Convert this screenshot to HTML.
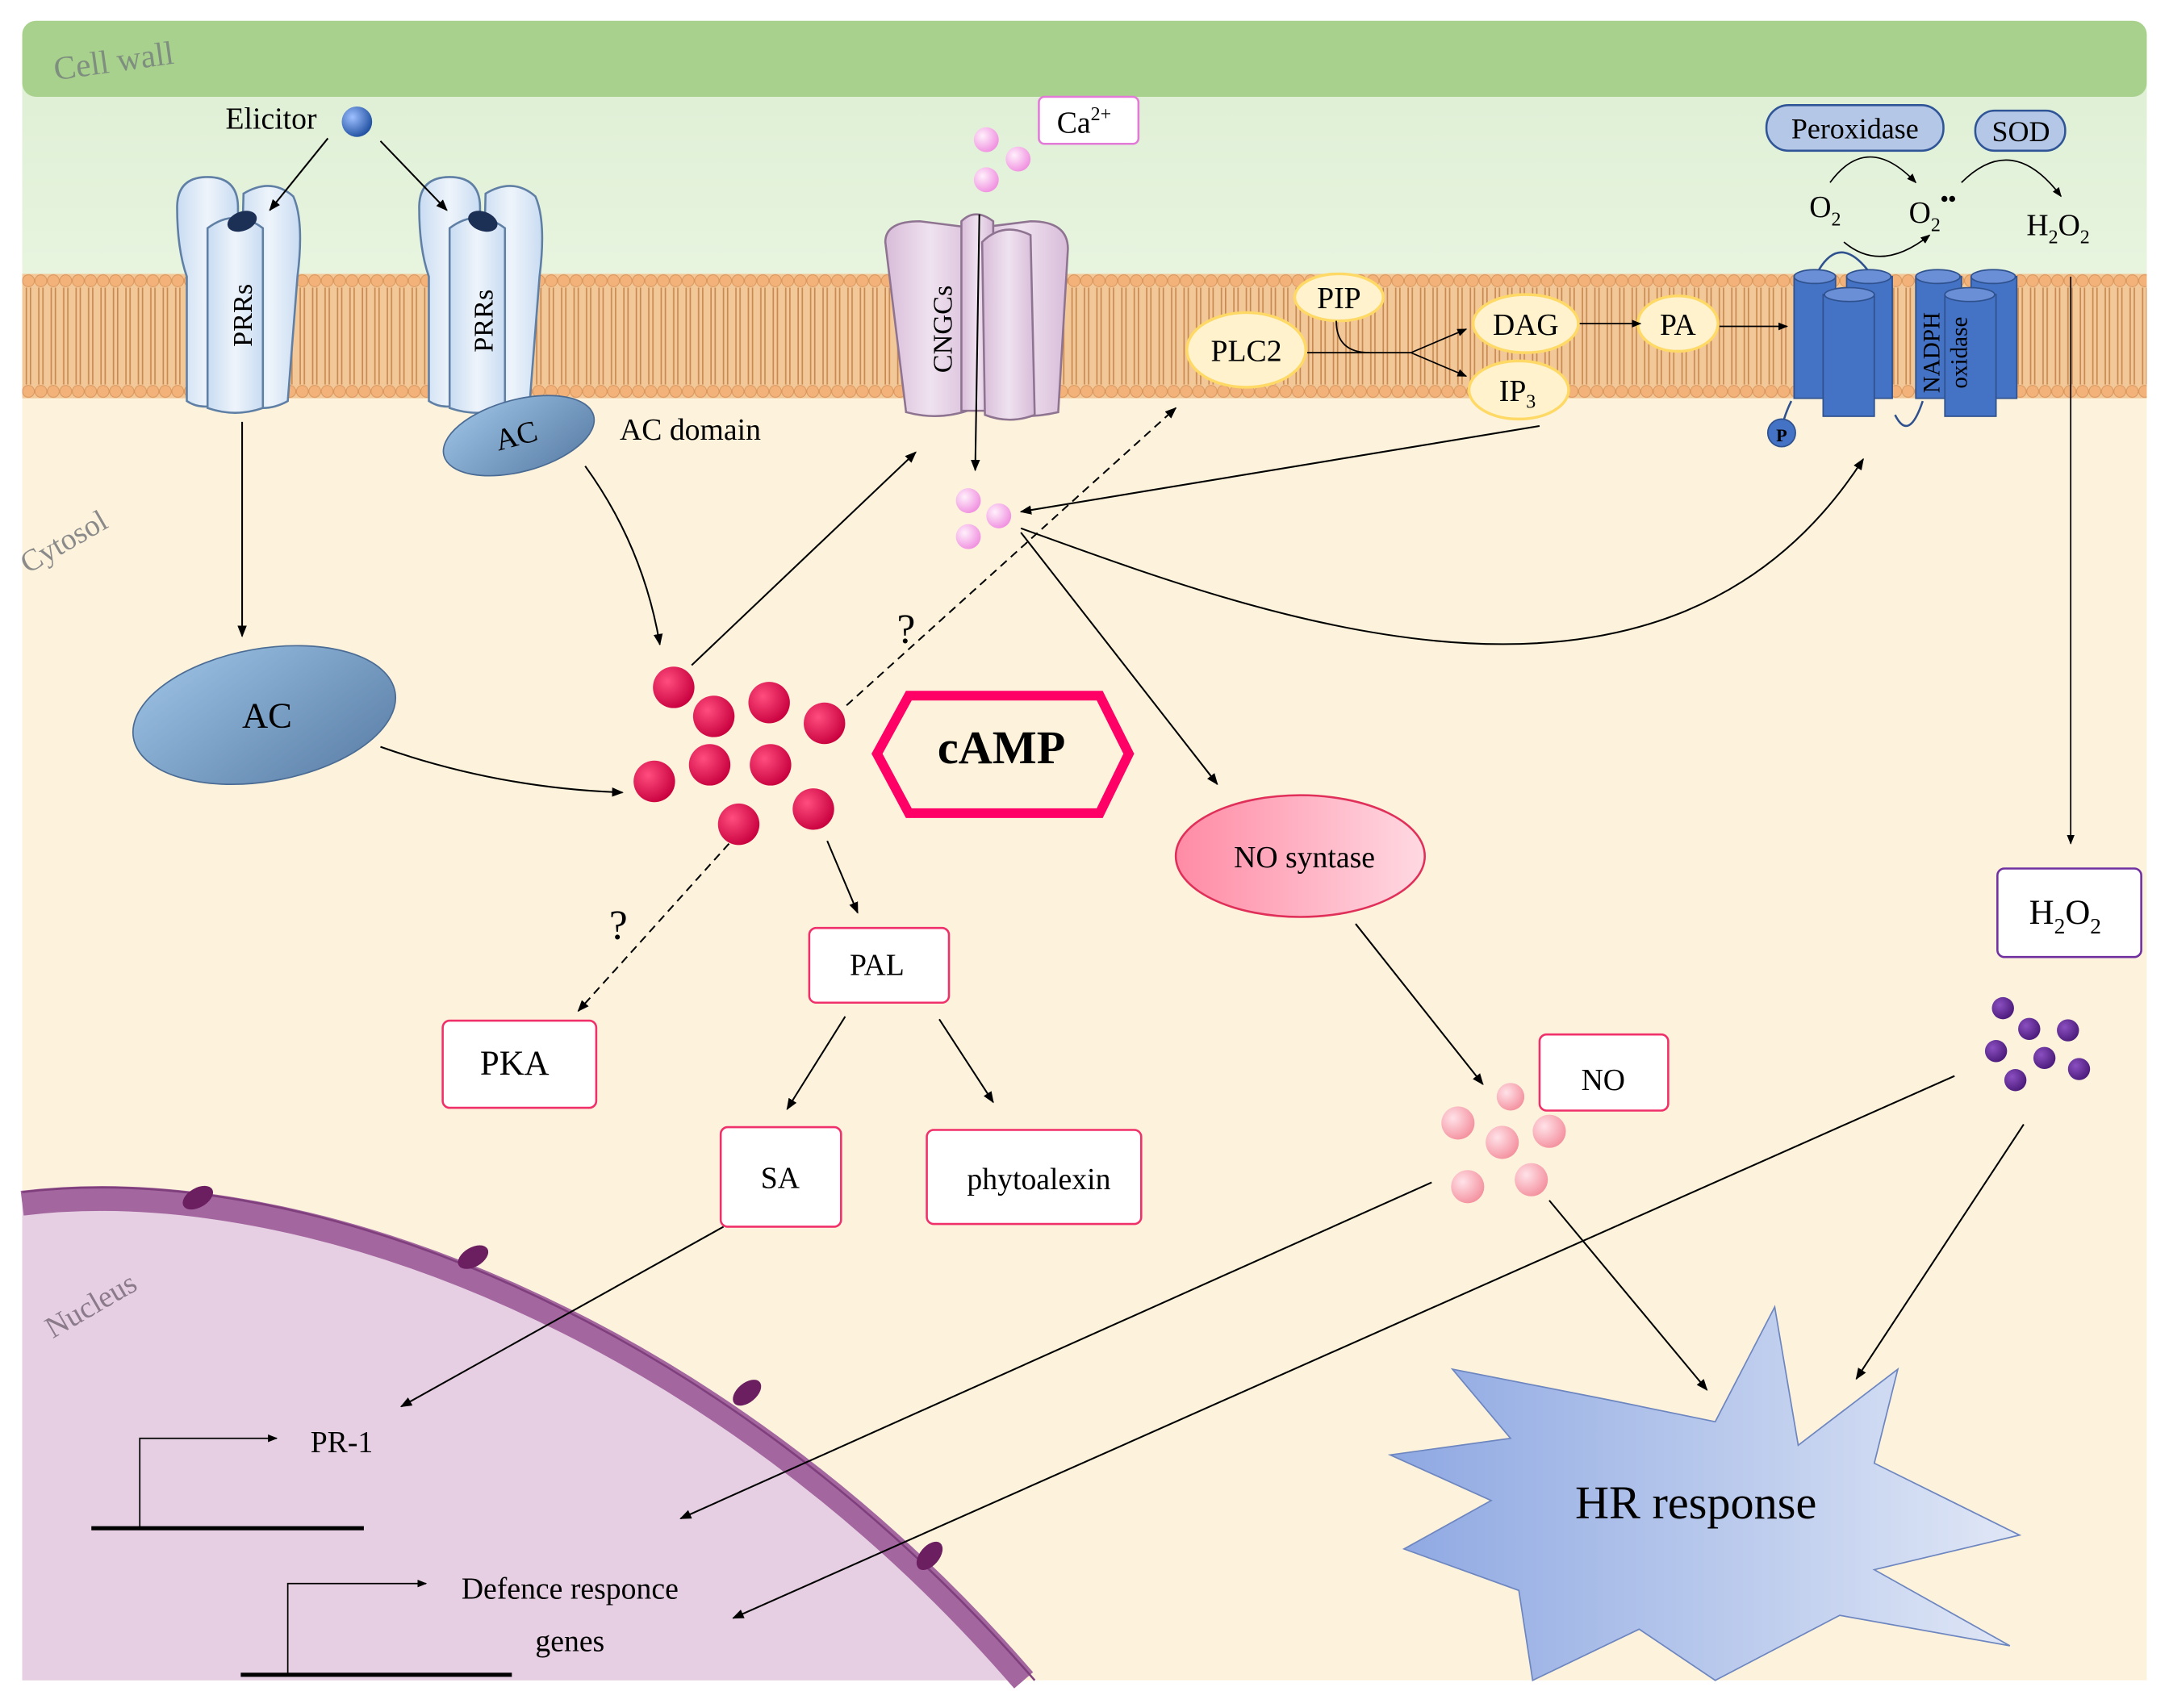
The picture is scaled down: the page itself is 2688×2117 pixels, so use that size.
<!DOCTYPE html>
<html><head><meta charset="utf-8">
<style>
html,body{margin:0;padding:0;background:#fff;}
svg{display:block;}
text{font-family:"Liberation Serif",serif;}
</style></head>
<body>
<svg width="2688" height="2117" viewBox="0 0 1568 1235" xmlns="http://www.w3.org/2000/svg">
<defs>
<marker id="ah" viewBox="0 0 10 10" refX="9" refY="5" markerWidth="7" markerHeight="7" orient="auto-start-reverse"><path d="M0,1 L10,5 L0,9 z" fill="#000"/></marker>
<linearGradient id="gtop" x1="0" y1="0" x2="0" y2="1"><stop offset="0" stop-color="#dff0d6"/><stop offset="1" stop-color="#e8f4df"/></linearGradient>
<pattern id="lip" width="9" height="90" patternUnits="userSpaceOnUse" x="16" y="198">
<rect width="9" height="90" fill="#f3c898"/>
<line x1="3" y1="10" x2="3" y2="80" stroke="#c88a52" stroke-width="1"/>
<line x1="6" y1="10" x2="6" y2="80" stroke="#c88a52" stroke-width="1"/>
<circle cx="4.5" cy="5" r="4.3" fill="#f2b27a" stroke="#d9965c" stroke-width="0.6"/>
<circle cx="4.5" cy="85" r="4.3" fill="#f2b27a" stroke="#d9965c" stroke-width="0.6"/>
</pattern>
<radialGradient id="red" cx="0.35" cy="0.35" r="0.7"><stop offset="0" stop-color="#ff4d7e"/><stop offset="1" stop-color="#c8003e"/></radialGradient>
<radialGradient id="pink" cx="0.35" cy="0.35" r="0.7"><stop offset="0" stop-color="#fff0fb"/><stop offset="1" stop-color="#f08fe0"/></radialGradient>
<radialGradient id="lpink" cx="0.35" cy="0.35" r="0.7"><stop offset="0" stop-color="#ffe2e8"/><stop offset="1" stop-color="#f4919f"/></radialGradient>
<radialGradient id="purp" cx="0.35" cy="0.35" r="0.7"><stop offset="0" stop-color="#8a4fc0"/><stop offset="1" stop-color="#4b1a7a"/></radialGradient>
<radialGradient id="blueball" cx="0.35" cy="0.35" r="0.7"><stop offset="0" stop-color="#9ec0ff"/><stop offset="1" stop-color="#1f4fa0"/></radialGradient>
<linearGradient id="acg" x1="0" y1="0" x2="1" y2="1"><stop offset="0" stop-color="#9dc3e6"/><stop offset="1" stop-color="#5a7ea6"/></linearGradient>
<linearGradient id="nos" x1="0" y1="0" x2="1" y2="0"><stop offset="0" stop-color="#ff8ba5"/><stop offset="1" stop-color="#ffd9e2"/></linearGradient>
<linearGradient id="hr" x1="0" y1="0" x2="1" y2="0"><stop offset="0" stop-color="#8ea8e2"/><stop offset="1" stop-color="#e0e7f6"/></linearGradient>
<linearGradient id="prr" x1="0" y1="0" x2="1" y2="0"><stop offset="0" stop-color="#c9dcf2"/><stop offset="0.5" stop-color="#eef4fb"/><stop offset="1" stop-color="#c9dcf2"/></linearGradient>
<linearGradient id="cng" x1="0" y1="0" x2="1" y2="0"><stop offset="0" stop-color="#d8bcd9"/><stop offset="0.5" stop-color="#efe2ef"/><stop offset="1" stop-color="#d8bcd9"/></linearGradient>
</defs>

<!-- backgrounds -->
<rect x="16" y="60" width="1536" height="1155" fill="#fdf3dc"/>
<rect x="16" y="60" width="1536" height="145" fill="url(#gtop)"/>
<rect x="16" y="15" width="1536" height="55" rx="10" fill="#a9d18e"/>
<text x="40" y="58" font-size="24" fill="#7f8f7f" transform="rotate(-8 40 58)">Cell wall</text>
<rect x="16" y="198" width="1536" height="90" fill="url(#lip)"/>
<text x="20" y="415" font-size="22" fill="#8a8a8a" transform="rotate(-30 20 415)">Cytosol</text>

<!-- nucleus -->
<path d="M16,870 C220,845 520,960 740,1215 L16,1215 Z" fill="#e6cfe3"/>
<path d="M16,870 C220,845 520,960 740,1215" fill="none" stroke="#a3669f" stroke-width="18"/>
<path d="M16,862 C220,837 520,952 748,1215" fill="none" stroke="#7f3f7c" stroke-width="1.5"/>
<ellipse cx="143" cy="866" rx="7" ry="12" fill="#6b1e60" transform="rotate(60 143 866)"/>
<ellipse cx="342" cy="909" rx="7" ry="12" fill="#6b1e60" transform="rotate(60 342 909)"/>
<ellipse cx="540" cy="1007" rx="7" ry="12" fill="#6b1e60" transform="rotate(50 540 1007)"/>
<ellipse cx="672" cy="1125" rx="7" ry="12" fill="#6b1e60" transform="rotate(40 672 1125)"/>
<text x="38" y="968" font-size="22" fill="#8a7a8a" transform="rotate(-30 38 968)">Nucleus</text>

<!-- PRRs -->
<g stroke="#5f7fa5" stroke-width="1.5" fill="url(#prr)">
<path d="M128,150 Q128,128 150,128 Q172,128 172,150 L172,285 Q150,300 135,290 L135,200 Q128,180 128,150Z"/>
<path d="M176,140 Q196,128 212,142 Q220,160 215,200 L208,290 Q190,300 172,290Z"/>
<path d="M150,165 Q170,150 190,165 L190,295 Q170,302 150,295Z"/>
<path d="M303,150 Q303,128 325,128 Q347,128 347,150 L347,285 Q325,300 310,290 L310,200 Q303,180 303,150Z"/>
<path d="M351,140 Q371,128 387,142 Q395,160 390,200 L383,290 Q365,300 347,290Z"/>
<path d="M325,165 Q345,150 365,165 L365,295 Q345,302 325,295Z"/>
</g>
<ellipse cx="175" cy="160" rx="11" ry="7" fill="#1c2f55" transform="rotate(-20 175 160)"/>
<ellipse cx="349" cy="160" rx="11" ry="7" fill="#1c2f55" transform="rotate(20 349 160)"/>
<text x="182" y="228" font-size="20" transform="rotate(-90 182 228)" text-anchor="middle">PRRs</text>
<text x="356" y="232" font-size="20" transform="rotate(-90 356 232)" text-anchor="middle">PRRs</text>
<text x="163" y="93" font-size="22">Elicitor</text>
<circle cx="258" cy="88" r="11" fill="url(#blueball)"/>

<!-- AC domain -->
<ellipse cx="375" cy="315" rx="56" ry="26" fill="url(#acg)" stroke="#4a6b94" transform="rotate(-15 375 315)"/>
<text x="375" y="322" font-size="22" text-anchor="middle" transform="rotate(-15 375 322)">AC</text>
<text x="448" y="318" font-size="22">AC domain</text>
<ellipse cx="191" cy="517" rx="96" ry="48" fill="url(#acg)" stroke="#4a6b94" transform="rotate(-10 191 517)"/>
<text x="193" y="526" font-size="26" text-anchor="middle">AC</text>

<!-- CNGC -->
<g stroke="#8e7491" stroke-width="1.5" fill="url(#cng)">
<path d="M640,175 Q640,160 665,160 L705,165 L705,295 Q680,305 655,298 Z"/>
<path d="M705,165 L745,160 Q772,160 772,180 L765,298 Q735,305 705,295 Z"/>
<path d="M695,160 Q705,150 718,160 L718,297 L695,297Z"/>
<path d="M710,175 Q725,160 745,170 L748,300 Q730,307 712,300Z"/>
</g>
<text x="688" y="238" font-size="20" transform="rotate(-90 688 238)" text-anchor="middle">CNGCs</text>
<rect x="751" y="70" width="72" height="34" rx="4" fill="#fff" stroke="#e37ad8" stroke-width="1.5"/>
<text x="764" y="96" font-size="22">Ca<tspan font-size="14" dy="-9">2+</tspan></text>
<circle cx="713" cy="101" r="9" fill="url(#pink)"/>
<circle cx="736" cy="115" r="9" fill="url(#pink)"/>
<circle cx="713" cy="130" r="9" fill="url(#pink)"/>
<circle cx="700" cy="362" r="9" fill="url(#pink)"/>
<circle cx="722" cy="373" r="9" fill="url(#pink)"/>
<circle cx="700" cy="388" r="9" fill="url(#pink)"/>

<!-- lipid signalling -->
<g fill="#fff2cc" stroke="#ffd966" stroke-width="2">
<ellipse cx="968" cy="215" rx="32" ry="17"/>
<ellipse cx="901" cy="253" rx="43" ry="27"/>
<ellipse cx="1103" cy="234" rx="38" ry="21"/>
<ellipse cx="1098" cy="282" rx="36" ry="21"/>
<ellipse cx="1213" cy="234" rx="29" ry="20"/>
</g>
<g font-size="22" text-anchor="middle">
<text x="968" y="223">PIP</text>
<text x="901" y="261">PLC2</text>
<text x="1103" y="242">DAG</text>
<text x="1097" y="290">IP<tspan font-size="14" dy="5">3</tspan></text>
<text x="1213" y="242">PA</text>
</g>
<path d="M945,255 L1020,255" stroke="#000" fill="none"/>
<path d="M1020,255 L1060,238" stroke="#000" fill="none" marker-end="url(#ah)"/>
<path d="M1020,255 L1060,272" stroke="#000" fill="none" marker-end="url(#ah)"/>
<path d="M966,232 Q966,255 990,255" stroke="#000" fill="none"/>
<path d="M1142,234 L1186,234" stroke="#000" marker-end="url(#ah)"/>
<path d="M1243,236 L1292,236" stroke="#000" marker-end="url(#ah)"/>

<!-- NADPH oxidase -->
<g fill="#4472c4" stroke="#2f528f" stroke-width="1">
<rect x="1297" y="200" width="30" height="88"/><ellipse cx="1312" cy="200" rx="15" ry="5" fill="#6a8fd6"/>
<rect x="1335" y="200" width="33" height="88"/><ellipse cx="1351" cy="200" rx="16" ry="5" fill="#6a8fd6"/>
<rect x="1318" y="213" width="37" height="88"/><ellipse cx="1337" cy="213" rx="18" ry="5" fill="#6a8fd6"/>
<rect x="1385" y="200" width="33" height="88"/><ellipse cx="1401" cy="200" rx="16" ry="5" fill="#6a8fd6"/>
<rect x="1425" y="200" width="33" height="88"/><ellipse cx="1441" cy="200" rx="16" ry="5" fill="#6a8fd6"/>
<rect x="1406" y="213" width="37" height="88"/><ellipse cx="1424" cy="213" rx="18" ry="5" fill="#6a8fd6"/>
</g>
<path d="M1315,195 Q1330,170 1350,195 M1370,300 Q1380,320 1390,290 M1295,290 Q1290,300 1288,310" stroke="#2f528f" fill="none" stroke-width="1.5"/>
<text x="1402" y="255" font-size="17" transform="rotate(-90 1402 255)" text-anchor="middle">NADPH</text>
<text x="1422" y="255" font-size="17" transform="rotate(-90 1422 255)" text-anchor="middle">oxidase</text>
<circle cx="1288" cy="313" r="10" fill="#4472c4" stroke="#2f528f"/>
<text x="1288" y="319" font-size="13" text-anchor="middle" font-weight="bold">P</text>

<rect x="1277" y="76" width="128" height="33" rx="16" fill="#b4c7e7" stroke="#2f5597" stroke-width="1.5"/>
<text x="1341" y="100" font-size="21" text-anchor="middle" font-family="Liberation Sans, sans-serif">Peroxidase</text>
<rect x="1428" y="80" width="65" height="29" rx="14" fill="#b4c7e7" stroke="#2f5597" stroke-width="1.5"/>
<text x="1461" y="102" font-size="21" text-anchor="middle" font-family="Liberation Sans, sans-serif">SOD</text>
<text x="1308" y="157" font-size="22">O<tspan font-size="14" dy="6">2</tspan></text>
<text x="1380" y="161" font-size="22">O<tspan font-size="14" dy="6">2</tspan><tspan font-size="16" dy="-18" font-weight="bold">••</tspan></text>
<text x="1465" y="170" font-size="22">H<tspan font-size="14" dy="6">2</tspan><tspan dy="-6">O</tspan><tspan font-size="14" dy="6">2</tspan></text>
<path d="M1323,132 Q1350,95 1385,132" stroke="#000" fill="none" marker-end="url(#ah)"/>
<path d="M1333,175 Q1360,198 1395,170" stroke="#000" fill="none" marker-end="url(#ah)"/>
<path d="M1418,132 Q1455,95 1490,142" stroke="#000" fill="none" marker-end="url(#ah)"/>
<path d="M1497,200 L1497,610" stroke="#000" marker-end="url(#ah)"/>

<!-- cAMP -->
<polygon points="634,545 657,503 795,503 816,545 795,588 657,588" fill="none" stroke="#ff0066" stroke-width="7"/>
<text x="724" y="552" font-size="34" font-weight="bold" text-anchor="middle">cAMP</text>
<g fill="url(#red)">
<circle cx="487" cy="497" r="15"/><circle cx="516" cy="518" r="15"/><circle cx="556" cy="508" r="15"/>
<circle cx="596" cy="523" r="15"/><circle cx="473" cy="565" r="15"/><circle cx="513" cy="553" r="15"/>
<circle cx="557" cy="553" r="15"/><circle cx="534" cy="596" r="15"/><circle cx="588" cy="585" r="15"/>
</g>
<text x="655" y="465" font-size="30" text-anchor="middle">?</text>
<text x="447" y="679" font-size="30" text-anchor="middle">?</text>

<!-- boxes -->
<g fill="#fff" stroke="#f0306a" stroke-width="1.5">
<rect x="585" y="671" width="101" height="54" rx="5"/>
<rect x="320" y="738" width="111" height="63" rx="5"/>
<rect x="521" y="815" width="87" height="72" rx="5"/>
<rect x="670" y="817" width="155" height="68" rx="5"/>
<rect x="1113" y="748" width="93" height="55" rx="5"/>
</g>
<rect x="1444" y="628" width="104" height="64" rx="5" fill="#fff" stroke="#7030a0" stroke-width="1.5"/>
<g font-size="22" text-anchor="middle">
<text x="634" y="705">PAL</text>
<text x="372" y="777" font-size="25">PKA</text>
<text x="564" y="859">SA</text>
<text x="751" y="860">phytoalexin</text>
<text x="1159" y="788">NO</text>
<text x="1493" y="668" font-size="25">H<tspan font-size="16" dy="7">2</tspan><tspan dy="-7">O</tspan><tspan font-size="16" dy="7">2</tspan></text>
</g>

<ellipse cx="940" cy="619" rx="90" ry="44" fill="url(#nos)" stroke="#e0305a" stroke-width="1.5"/>
<text x="943" y="627" font-size="22" text-anchor="middle">NO syntase</text>

<g fill="url(#lpink)">
<circle cx="1092" cy="793" r="10"/><circle cx="1054" cy="812" r="12"/><circle cx="1086" cy="826" r="12"/>
<circle cx="1120" cy="818" r="12"/><circle cx="1061" cy="858" r="12"/><circle cx="1107" cy="853" r="12"/>
</g>
<g fill="url(#purp)">
<circle cx="1448" cy="729" r="8"/><circle cx="1467" cy="744" r="8"/><circle cx="1495" cy="745" r="8"/>
<circle cx="1443" cy="760" r="8"/><circle cx="1478" cy="765" r="8"/><circle cx="1503" cy="773" r="8"/><circle cx="1457" cy="781" r="8"/>
</g>

<!-- HR -->
<polygon points="1005,1052 1092,1040 1050,990 1162,1012 1240,1028 1283,945 1300,1045 1372,990 1355,1058 1460,1110 1355,1135 1453,1190 1330,1168 1240,1215 1185,1178 1108,1215 1098,1150 1015,1120 1078,1085" fill="url(#hr)" stroke="#6d86c0" stroke-width="1"/>
<text x="1226" y="1098" font-size="34" text-anchor="middle">HR response</text>

<!-- nucleus genes -->
<text x="247" y="1050" font-size="22" text-anchor="middle">PR-1</text>
<line x1="66" y1="1105" x2="263" y2="1105" stroke="#000" stroke-width="3"/>
<path d="M101,1105 L101,1040 L200,1040" stroke="#000" fill="none" marker-end="url(#ah)"/>
<text x="412" y="1156" font-size="22" text-anchor="middle">Defence responce</text>
<text x="412" y="1194" font-size="22" text-anchor="middle">genes</text>
<line x1="174" y1="1211" x2="370" y2="1211" stroke="#000" stroke-width="3"/>
<path d="M208,1211 L208,1145 L308,1145" stroke="#000" fill="none" marker-end="url(#ah)"/>

<!-- arrows -->
<g stroke="#000" stroke-width="1.2" fill="none" marker-end="url(#ah)">
<path d="M237,100 L195,152"/>
<path d="M275,102 L323,152"/>
<path d="M175,305 L175,460"/>
<path d="M423,337 Q465,395 477,466"/>
<path d="M275,540 Q360,570 450,573"/>
<path d="M500,481 L662,327"/>
<path d="M612,510 L850,295" stroke-dasharray="6,4"/>
<path d="M598,608 L620,660"/>
<path d="M527,610 L418,731" stroke-dasharray="6,4"/>
<path d="M611,735 L569,802"/>
<path d="M679,737 L718,797"/>
<path d="M708,155 L705,340"/>
<path d="M1113,308 L738,370"/>
<path d="M738,382 C900,440 1200,560 1347,332"/>
<path d="M738,385 L880,567"/>
<path d="M980,668 L1072,784"/>
<path d="M1120,868 L1234,1005"/>
<path d="M1035,855 L492,1098"/>
<path d="M1413,778 L530,1170"/>
<path d="M1463,813 L1342,997"/>
<path d="M523,887 L290,1017"/>
</g>
</svg>
</body></html>
